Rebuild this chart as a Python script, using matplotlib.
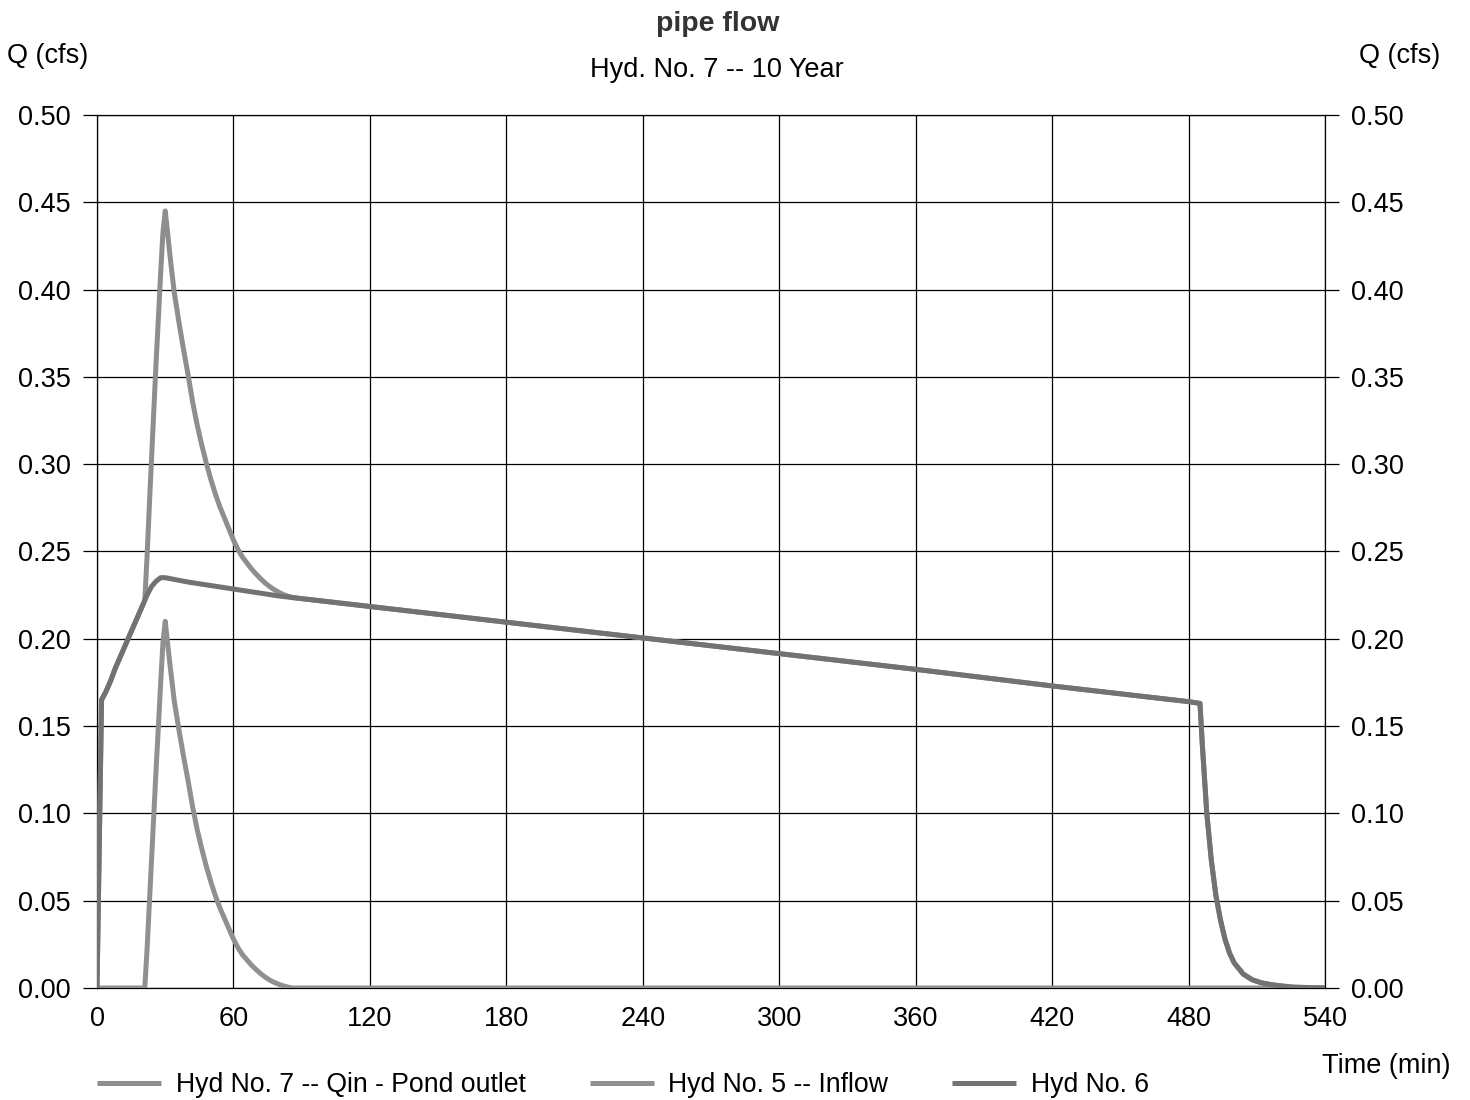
import matplotlib
matplotlib.use("Agg")
import matplotlib.pyplot as plt

plt.rcParams['font.family'] = ['Liberation Sans', 'DejaVu Sans']

# Hyd No. 6 -- pond release
t_hyd6 = [0, 2, 4, 6, 8, 10, 12, 14, 16, 18, 20, 22, 24, 26, 28, 30, 40, 60, 80,
          120, 180, 240, 300, 360, 420, 480, 485, 486, 488, 490, 492, 494, 496,
          498, 500, 504, 508, 512, 516, 520, 526, 540]
q_hyd6 = [0.0, 0.165, 0.170, 0.176, 0.183, 0.189, 0.195, 0.201, 0.207, 0.213,
          0.219, 0.225, 0.230, 0.233, 0.235, 0.235, 0.2325, 0.2285, 0.2245,
          0.2185, 0.2095, 0.2005, 0.1915, 0.1825, 0.1730, 0.1640, 0.1630, 0.140,
          0.100, 0.073, 0.053, 0.039, 0.028, 0.020, 0.0145, 0.0080, 0.0047,
          0.0030, 0.0020, 0.0013, 0.0005, 0.0]

# Hyd No. 5 -- inflow
t_hyd5 = [0, 21, 22, 23, 24, 25, 26, 27, 28, 29, 30, 31, 32, 33, 34, 36, 38, 40,
          42, 44, 46, 48, 50, 52, 54, 56, 58, 60, 62, 64, 66, 68, 70, 72, 74, 76,
          78, 80, 82, 84, 86, 540]
q_hyd5 = [0.0, 0.0, 0.022, 0.048, 0.074, 0.100, 0.126, 0.150, 0.175, 0.198,
          0.210, 0.198, 0.186, 0.175, 0.164, 0.148, 0.133, 0.119, 0.104, 0.091,
          0.080, 0.070, 0.061, 0.053, 0.046, 0.040, 0.034, 0.028, 0.023, 0.019,
          0.016, 0.013, 0.0105, 0.0082, 0.0062, 0.0045, 0.0032, 0.0021, 0.0012,
          0.0005, 0.0, 0.0]

# Hyd No. 7 -- combined flow at the pond outlet
t_hyd7 = [0, 2, 4, 6, 8, 10, 12, 14, 16, 18, 20, 21, 22, 23, 24, 25, 26, 27, 28,
          29, 30, 31, 32, 33, 34, 36, 38, 40, 42, 44, 46, 48, 50, 52, 54, 56, 58,
          60, 62, 64, 66, 68, 70, 72, 74, 76, 78, 80, 82, 84, 86, 120, 180, 240,
          300, 360, 420, 480, 485, 486, 488, 490, 492, 494, 496, 498, 500, 504,
          508, 512, 516, 520, 526, 540]
q_hyd7 = [0.0, 0.165, 0.170, 0.176, 0.183, 0.189, 0.195, 0.201, 0.207, 0.213,
          0.219, 0.222, 0.247, 0.276, 0.304, 0.3315, 0.359, 0.384, 0.410, 0.433,
          0.445, 0.433, 0.4205, 0.409, 0.398, 0.3815, 0.366, 0.3515, 0.336,
          0.3227, 0.3113, 0.3009, 0.2915, 0.2831, 0.2757, 0.2693, 0.2629, 0.2565,
          0.2511, 0.2467, 0.2433, 0.2399, 0.237, 0.2343, 0.2319, 0.2298, 0.2281,
          0.2266, 0.2253, 0.2244, 0.2236, 0.2185, 0.2095, 0.2005, 0.1915, 0.1825,
          0.1730, 0.1640, 0.1630, 0.140, 0.100, 0.073, 0.053, 0.039, 0.028, 0.020,
          0.0145, 0.0080, 0.0047, 0.0030, 0.0020, 0.0013, 0.0005, 0.0]

x_ticks = [0, 60, 120, 180, 240, 300, 360, 420, 480, 540]
y_ticks = [0.00, 0.05, 0.10, 0.15, 0.20, 0.25, 0.30, 0.35, 0.40, 0.45, 0.50]

fs = 19.5
fig = plt.figure(figsize=(14.7, 11), dpi=100)
ax = fig.add_axes([0.066, 0.1018, 0.8354, 0.7937])

ax.plot(t_hyd7, q_hyd7, color='#8e8e8e', lw=3.6, solid_capstyle='butt',
        label='Hyd No. 7 -- Qin - Pond outlet', zorder=3)
ax.plot(t_hyd5, q_hyd5, color='#909090', lw=3.6, solid_capstyle='butt',
        label='Hyd No. 5 -- Inflow', zorder=4)
ax.plot(t_hyd6, q_hyd6, color='#727272', lw=3.6, solid_capstyle='butt',
        label='Hyd No. 6', zorder=5)

ax.set_xlim(0, 540)
ax.set_ylim(0, 0.5)
ax.set_xticks(x_ticks)
ax.set_yticks(y_ticks)
ax.set_yticklabels([f'{v:.2f}' for v in y_ticks])
ax.grid(True, color='black', lw=0.9)
ax.set_axisbelow(True)
for s in ax.spines.values():
    s.set_color('black')
    s.set_linewidth(0.9)
ax.tick_params(axis='y', which='both', left=True, right=True, labelleft=True,
               labelright=True, length=10, width=0.9, pad=9, labelsize=fs)
ax.tick_params(axis='x', length=0, pad=13, labelsize=fs)

fig.text(0.488, 0.978, 'pipe flow', ha='center', va='center', fontsize=fs + 1,
         fontweight='bold', color='#333333')
fig.text(0.488, 0.936, 'Hyd. No. 7 -- 10 Year', ha='center', va='center',
         fontsize=fs)
fig.text(0.005, 0.949, 'Q (cfs)', ha='left', va='center', fontsize=fs)
fig.text(0.98, 0.949, 'Q (cfs)', ha='right', va='center', fontsize=fs)
fig.text(0.987, 0.031, 'Time (min)', ha='right', va='center', fontsize=fs)

fig.legend(loc='center left', bbox_to_anchor=(0.066, 0.0136), ncol=3,
           frameon=False, fontsize=19.2, handlelength=2.4, handletextpad=0.55,
           columnspacing=2.4, borderpad=0, borderaxespad=0)

fig.savefig('out.png', dpi=100)
